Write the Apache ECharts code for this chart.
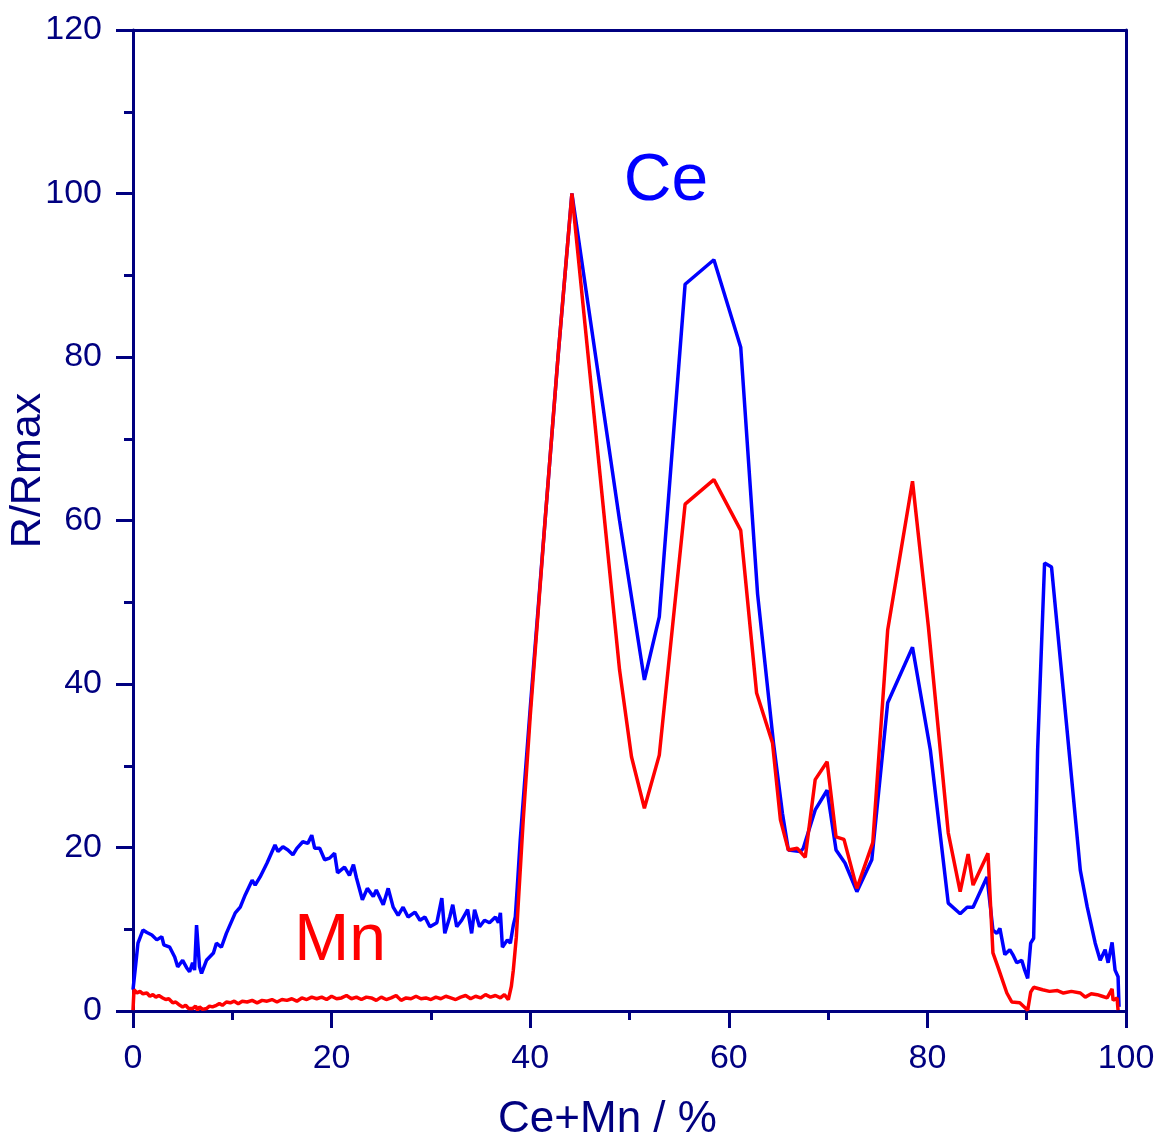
<!DOCTYPE html>
<html>
<head>
<meta charset="utf-8">
<script src="https://cdn.jsdelivr.net/npm/echarts@6/dist/echarts.min.js"></script>
<style>
html,body{margin:0;padding:0;background:#fff;}
#chart{width:1160px;height:1139px;}
</style>
</head>
<body>
<div id="chart"></div>
<script>
// ---- data ----
const xTicks = [0, 20, 40, 60, 80, 100];
const yTicks = [0, 20, 40, 60, 80, 100, 120];
const xName = 'Ce+Mn / %';
const yName = 'R/Rmax';
const ceLabel = 'Ce';
const mnLabel = 'Mn';

// Ce (blue) trace: [Ce+Mn %, R/Rmax]
const ceData = [
  [0,2.6],[0.3,6],[0.5,8.3],[1.0,9.9],[1.4,9.6],[1.9,9.3],[2.4,8.7],[2.9,9.1],[3.1,8.1],[3.7,7.8],
  [4.2,6.6],[4.5,5.4],[5.0,6.2],[5.4,5.3],[5.7,4.8],[6.0,5.9],[6.2,5.0],[6.4,10.5],[6.7,5.4],[6.9,4.6],
  [7.4,6.2],[8.1,7.1],[8.4,8.3],[8.9,7.8],[9.4,9.5],[10.3,12],[10.8,12.7],[11.3,14.2],[12,16],[12.3,15.4],
  [12.8,16.4],[13.5,18.1],[14.3,20.3],[14.6,19.5],[15.1,20.1],[15.6,19.7],[16.1,19.1],[16.5,19.9],[17.1,20.7],[17.6,20.5],
  [18.0,21.5],[18.3,19.9],[18.8,19.9],[19.3,18.5],[19.8,18.7],[20.3,19.3],[20.6,16.9],[21.3,17.6],[21.8,16.6],[22.2,17.9],
  [22.5,16.3],[23.1,13.6],[23.6,15],[24.2,14],[24.5,14.8],[25.2,13],[25.7,15],[26.2,12.7],[26.7,11.7],[27.2,12.7],
  [27.7,11.5],[28.4,12.1],[28.9,11.1],[29.4,11.5],[29.9,10.3],[30.6,10.8],[31.1,13.8],[31.4,9.5],[31.9,11.5],[32.2,13],
  [32.6,10.3],[33.1,11.1],[33.7,12.4],[34.1,9.5],[34.4,12.4],[34.9,10.3],[35.4,11.1],[35.9,10.8],[36.5,11.5],[36.8,10.8],
  [37.0,12],[37.2,7.8],[37.7,8.7],[38.0,8.3],[38.3,10.5],[38.5,11.5],[38.7,15.2],[39.0,21],[40,37],[41.5,60],
  [42.8,80],[44.2,100],[49.0,60],[51.5,40.5],[53.0,48.2],[55.6,88.9],[58.5,91.9],[61.2,81.2],[62.9,51],[64.5,32.8],
  [65.4,24.2],[66,19.7],[67.2,19.5],[67.5,19.9],[68.7,24.6],[69.9,27],[70.8,19.7],[71.7,18.1],[72.9,14.6],[74.4,18.5],
  [76.0,37.7],[78.5,44.5],[80.3,31.9],[82.1,13.2],[83.3,11.9],[84,12.7],[84.6,12.7],[86,16.4],[86.3,13.2],[86.6,9.9],
  [87,9.5],[87.3,10.1],[87.8,6.9],[88.3,7.5],[88.6,6.9],[89,5.9],[89.5,6.2],[89.8,5],[90.1,4],[90.4,8.3],
  [90.7,8.9],[91.1,31.9],[91.8,54.8],[92.5,54.3],[94,35.2],[95.4,17.2],[96.1,12.7],[96.9,8.3],[97.4,6.2],[97.9,7.5],
  [98.2,5.9],[98.6,8.4],[98.9,5],[99.2,4.2],[99.3,0.5]
];

// Mn (red) trace: [Ce+Mn %, R/Rmax]
const mnData = [
  [0,0.1],[0.1,2.6],[0.4,2.2],[0.7,2.4],[1.0,2.1],[1.4,2.2],[1.7,1.8],[2.0,2.0],[2.3,1.7],[2.6,1.9],
  [3.0,1.6],[3.3,1.4],[3.6,1.5],[4.0,1.0],[4.3,1.1],[4.6,0.8],[5.0,0.5],[5.3,0.7],[5.6,0.3],[6.0,0.3],
  [6.3,0.6],[6.5,0.1],[6.7,0.5],[7.0,0.2],[7.4,0.3],[7.7,0.6],[8.0,0.5],[8.4,0.7],[8.7,0.9],[9.0,0.7],
  [9.4,1.1],[9.8,1.0],[10.2,1.2],[10.6,0.9],[11.0,1.2],[11.5,1.1],[12.0,1.3],[12.5,1.0],[13.0,1.3],[13.5,1.2],
  [14.0,1.4],[14.5,1.1],[15.0,1.4],[15.5,1.3],[16.0,1.5],[16.5,1.2],[17.0,1.6],[17.5,1.4],[18.0,1.7],[18.5,1.5],
  [19.0,1.7],[19.5,1.4],[20.0,1.8],[20.5,1.5],[21.0,1.6],[21.5,1.9],[22.0,1.5],[22.5,1.7],[23.0,1.4],[23.5,1.7],
  [24.0,1.6],[24.5,1.3],[25.0,1.7],[25.5,1.4],[26.0,1.6],[26.5,1.9],[27.0,1.3],[27.5,1.6],[28.0,1.5],[28.5,1.8],
  [29.0,1.5],[29.5,1.6],[30.0,1.4],[30.5,1.7],[31.0,1.5],[31.5,1.8],[32.0,1.6],[32.5,1.4],[33.0,1.7],[33.5,1.9],
  [34.0,1.5],[34.5,1.8],[35.0,1.6],[35.5,2.0],[36.0,1.7],[36.5,1.9],[37.0,1.6],[37.4,2.0],[37.8,1.4],[38.1,3],
  [38.3,5],[38.6,9],[38.8,13.2],[39.3,23.4],[40,36],[41.5,60],[42.8,80],[44.2,100],[49.0,41.7],[50.2,31.1],
  [51.5,24.8],[53.0,31.3],[55.6,62],[58.5,65],[61.2,58.8],[62.8,38.9],[64.4,32.8],[65.2,23.4],[66,19.7],[66.9,19.9],
  [67.7,18.8],[68.7,28.3],[69.9,30.5],[70.8,21.3],[71.6,21],[72.9,15],[74.5,20.6],[76,46.6],[78.5,64.8],[80.1,47],
  [82.1,21.8],[83.3,14.6],[84.1,19.2],[84.6,15.4],[86.1,19.3],[86.6,7.1],[87.1,5.4],[88,2.2],[88.5,1.1],[89.3,1],
  [90.1,0.1],[90.4,2.3],[90.7,2.9],[91.6,2.6],[92.3,2.4],[93.1,2.5],[93.7,2.2],[94.5,2.4],[95.4,2.2],[95.9,1.7],
  [96.5,2.1],[97.1,2],[97.6,1.8],[98.1,1.6],[98.6,2.7],[98.7,1.3],[99.1,1.6],[99.2,0.1]
];

// ---- chart ----
const NAVY = '#000080';
const FONT = '"Liberation Sans", Arial, sans-serif';
const chart = echarts.init(document.getElementById('chart'), null, {renderer: 'canvas'});

const mainAxisCommon = {
  type: 'value',
  axisLine: {show: true, onZero: false, lineStyle: {color: NAVY, width: 3}},
  axisTick: {show: true, inside: false, length: 17, lineStyle: {color: NAVY, width: 3}},
  minorTick: {show: true, splitNumber: 2, length: 9, lineStyle: {color: NAVY, width: 3}},
  splitLine: {show: false},
  minorSplitLine: {show: false}
};
const frameAxis = {
  type: 'value',
  axisLine: {show: true, onZero: false, lineStyle: {color: NAVY, width: 3}},
  axisTick: {show: false},
  axisLabel: {show: false},
  splitLine: {show: false}
};

chart.setOption({
  animation: false,
  backgroundColor: '#ffffff',
  grid: {left: 133, right: 34, top: 30, bottom: 128, containLabel: false, outerBoundsMode: 'none'},
  xAxis: [
    Object.assign({}, mainAxisCommon, {
      min: xTicks[0], max: xTicks[xTicks.length - 1], interval: xTicks[1] - xTicks[0],
      position: 'bottom',
      name: xName, nameLocation: 'middle', nameGap: 87,
      nameTextStyle: {color: NAVY, fontSize: 44, fontFamily: FONT, padding: [0, 44, 0, 0]},
      axisLabel: {color: NAVY, fontSize: 34, fontFamily: FONT, margin: 31}
    }),
    Object.assign({}, frameAxis, {min: 0, max: 100, position: 'top'})
  ],
  yAxis: [
    Object.assign({}, mainAxisCommon, {
      min: yTicks[0], max: yTicks[yTicks.length - 1], interval: yTicks[1] - yTicks[0],
      position: 'left',
      name: yName, nameLocation: 'middle', nameGap: 83, nameRotate: 90, nameMoveOverlap: false,
      nameTextStyle: {color: NAVY, fontSize: 43, fontFamily: FONT, padding: [0, 0, 0, 100]},
      axisLabel: {color: NAVY, fontSize: 34, fontFamily: FONT, margin: 31}
    }),
    Object.assign({}, frameAxis, {min: 0, max: 120, position: 'right'})
  ],
  graphic: [
    {type: 'text', x: 666, y: 182, style: {text: ceLabel, fill: '#0000ff', font: '66px ' + FONT, textAlign: 'center', textVerticalAlign: 'middle'}},
    {type: 'text', x: 340, y: 942, style: {text: mnLabel, fill: '#ff0000', font: '66px ' + FONT, textAlign: 'center', textVerticalAlign: 'middle'}}
  ],
  series: [
    {name: 'Ce', type: 'line', data: ceData, showSymbol: false, symbol: 'none',
     lineStyle: {color: '#0000ff', width: 3.5}, itemStyle: {color: '#0000ff'}, z: 2},
    {name: 'Mn', type: 'line', data: mnData, showSymbol: false, symbol: 'none',
     lineStyle: {color: '#ff0000', width: 3.5}, itemStyle: {color: '#ff0000'}, z: 3}
  ]
});
</script>
</body>
</html>
